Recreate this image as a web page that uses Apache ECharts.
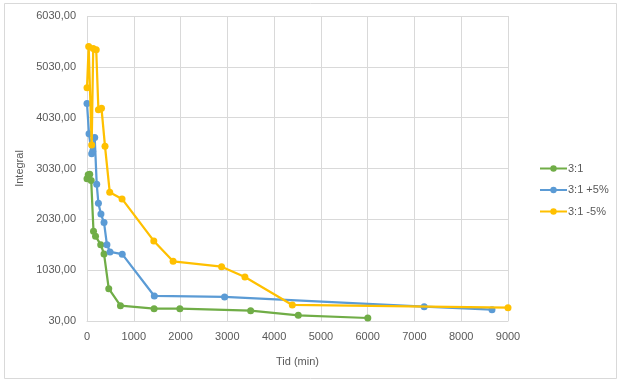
<!DOCTYPE html>
<html>
<head>
<meta charset="utf-8">
<script src="https://cdn.jsdelivr.net/npm/echarts@6/dist/echarts.min.js"></script>
<style>
html,body{margin:0;padding:0;background:#fff;}
#c{width:623px;height:382px;}
</style>
</head>
<body>
<div id="c"></div>
<script>
var seriesNames = ['3:1', '3:1 +5%', '3:1 -5%'];

var greenX = [0, 26, 58, 90, 139, 182, 293, 364, 465, 715, 1434, 1985, 3498, 4517, 6003];
var greenY = [2826, 2905, 2919, 2792, 1796, 1698, 1532, 1349, 666, 331, 272, 272, 233, 142, 89];

var blueX = [0, 43, 100, 122, 165, 208, 244, 298, 364, 426, 492, 753, 1439, 2941, 7208, 8658];
var blueY = [4309, 3712, 3318, 3367, 3639, 2718, 2344, 2133, 1966, 1532, 1389, 1345, 522, 503, 312, 252];

var yellowX = [0, 36, 100, 133, 197, 244, 310, 385, 486, 749, 1428, 1841, 2877, 3376, 4389, 9000];
var yellowY = [4618, 5431, 3490, 5392, 5366, 4185, 4214, 3466, 2564, 2432, 1605, 1205, 1099, 896, 345, 292];

var colors = ['#70AD47', '#5B9BD5', '#FFC000'];

function pairs(xs, ys) {
  return xs.map(function (x, i) { return [x, ys[i]]; });
}

var chart = echarts.init(document.getElementById('c'), null, {renderer: 'canvas'});
var font = 'Liberation Sans';
function mkSeries(i, xs, ys) {
  return {
    name: seriesNames[i],
    type: 'line',
    data: pairs(xs, ys),
    symbol: 'circle',
    symbolSize: 7,
    showSymbol: true,
    lineStyle: {width: 2.25, color: colors[i]},
    itemStyle: {color: colors[i]},
    emphasis: {disabled: true},
    animation: false,
    z: 2 + i
  };
}

chart.setOption({
  animation: false,
  backgroundColor: '#ffffff',
  color: colors,
  graphic: [{
    type: 'rect',
    shape: {x: 4.5, y: 3.5, width: 612, height: 375},
    style: {fill: 'none', stroke: '#D9D9D9', lineWidth: 1},
    silent: true
  }],
  grid: {left: 87, right: 115, top: 16, bottom: 61, containLabel: false},
  legend: {
    orient: 'vertical',
    left: 539,
    top: 163,
    padding: 0,
    itemWidth: 27,
    itemHeight: 8,
    itemGap: 10.5,
    textStyle: {fontFamily: font, fontSize: 11, color: '#595959', padding: [0, 0, 0, -4]},
    data: seriesNames
  },
  xAxis: {
    type: 'value',
    min: 0,
    max: 9000,
    interval: 1000,
    name: 'Tid (min)',
    nameLocation: 'middle',
    nameGap: 35,
    nameTextStyle: {fontFamily: font, fontSize: 11, color: '#595959'},
    axisLine: {show: true, lineStyle: {color: '#D9D9D9', width: 1}},
    axisTick: {show: false},
    axisLabel: {fontFamily: font, fontSize: 11, color: '#595959', margin: 10,
      formatter: function (v) { return String(v); }},
    splitLine: {show: true, lineStyle: {color: '#D9D9D9', width: 1}}
  },
  yAxis: {
    type: 'value',
    min: 30,
    max: 6030,
    interval: 1000,
    name: 'Integral',
    nameLocation: 'middle',
    nameGap: 58,
    nameRotate: 90,
    nameTextStyle: {fontFamily: font, fontSize: 11, color: '#595959'},
    axisLine: {show: false},
    axisTick: {show: false},
    axisLabel: {
      fontFamily: font, fontSize: 11, color: '#595959', margin: 11,
      formatter: function (v) { return v.toFixed(2).replace('.', ','); }
    },
    splitLine: {show: true, lineStyle: {color: '#D9D9D9', width: 1}}
  },
  series: [
    mkSeries(0, greenX, greenY),
    mkSeries(1, blueX, blueY),
    mkSeries(2, yellowX, yellowY)
  ]
});
</script>
</body>
</html>
